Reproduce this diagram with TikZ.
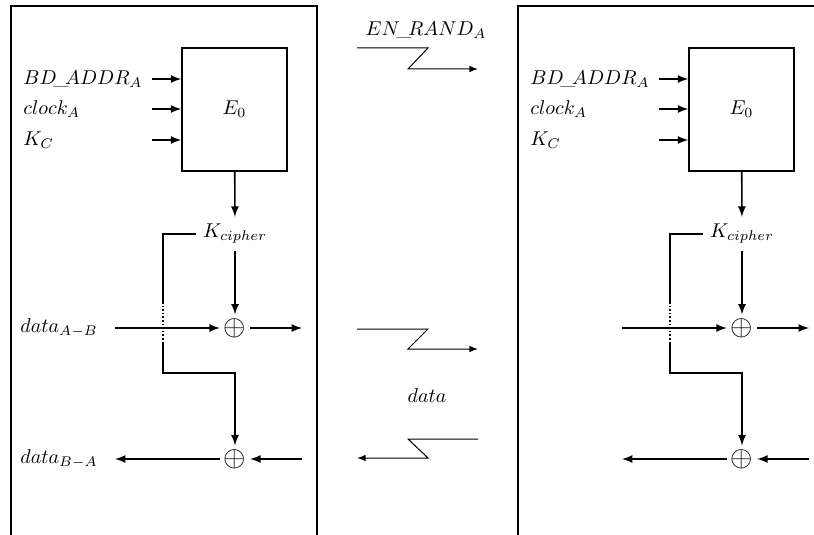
\documentclass[tikz,border=0pt]{standalone}
\usepackage{amsmath}
\usepackage{tikz}
\usetikzlibrary{positioning, arrows}

\begin{document}
\begin{tikzpicture}[x=0.5pt, y=-0.5pt, >=latex, thick,
    block/.style={draw, minimum width=52.5pt, minimum height=61.5pt},
    xor/.style={inner sep=0pt, outer sep=2pt, font=\Large},
    link/.style={line width=0.5pt}]
  \useasboundingbox (0,0) rectangle (814,535);
  % frames of the two devices
  \draw (11,535) -- (11,6) -- (317,6) -- (317,535);
  \draw (518,535) -- (518,6) -- (814,6);

  \foreach \s/\p in {0/L, 507/R} {
    \begin{scope}[xshift=\s*0.5pt]
      \node[block] (\p e0) at (234.5,109.5) {$E_0$};
      \node (\p kc) at (235,234) {$K_{cipher}$};
      \node[xor] (\p x1) at (235,328) {$\oplus$};
      \node[xor] (\p x2) at (235,459) {$\oplus$};
      % inputs of E_0
      \node[right] (\p bd) at (16,79) {$BD\!\text{\_}\!ADDR_A$};
      \node[right] (\p ck) at (16,109) {$clock_A$};
      \node[right] (\p kk) at (16,140) {$K_C$};
      \coordinate (\p i1) at (152,79);
      \coordinate (\p i2) at (152,109);
      \coordinate (\p i3) at (152,140);
      % data in and out
      \coordinate (\p d1) at (115,328);
      \coordinate (\p d2) at (302,328);
      \coordinate (\p d3) at (302,459);
      \coordinate (\p d4) at (115,459);
      % bends of the key line
      \coordinate (\p k1) at (163,302);
      \coordinate (\p k2) at (163,342);
      \coordinate (\p k3) at (163,373);

      \path[->]
        (\p i1) edge (\p i1 -| \p e0.west)
        (\p i2) edge (\p i2 -| \p e0.west)
        (\p i3) edge (\p i3 -| \p e0.west)
        (\p e0) edge (\p kc)
        (\p kc) edge (\p x1)
        (\p d1) edge (\p x1)
        (\p x1) edge (\p d2)
        (\p d3) edge (\p x2)
        (\p x2) edge (\p d4);
      % key goes round to the lower xor
      \draw (\p kc.west) -| (\p k1);
      \draw[densely dotted] (\p k1) -- (\p k2);
      \draw[->] (\p k2) -- (\p k3) -| (\p x2);
    \end{scope}
  }

  \node[left=5pt of Ld1] (dab) {$data_{A-B}$};
  \node[left=5pt of Ld4] (dba) {$data_{B-A}$};

  % the air link
  \node (en) at (426,30) {$EN\!\text{\_}\!RAND_A$};
  \node (dt) at (427,396) {$data$};
  \coordinate (z1) at (357,48);
  \coordinate (z2) at (478,69);
  \coordinate (z3) at (357,329);
  \coordinate (z4) at (478,349);
  \coordinate (z5) at (478,439);
  \coordinate (z6) at (357,458);
  \draw[link,->] (z1) -- ++(71,0) -- ++(-20,21) -- (z2);
  \draw[link,->] (z3) -- ++(71,0) -- ++(-20,20) -- (z4);
  \draw[link,->] (z5) -- ++(-70,0) -- ++(20,19) -- (z6);
\end{tikzpicture}
\end{document}
